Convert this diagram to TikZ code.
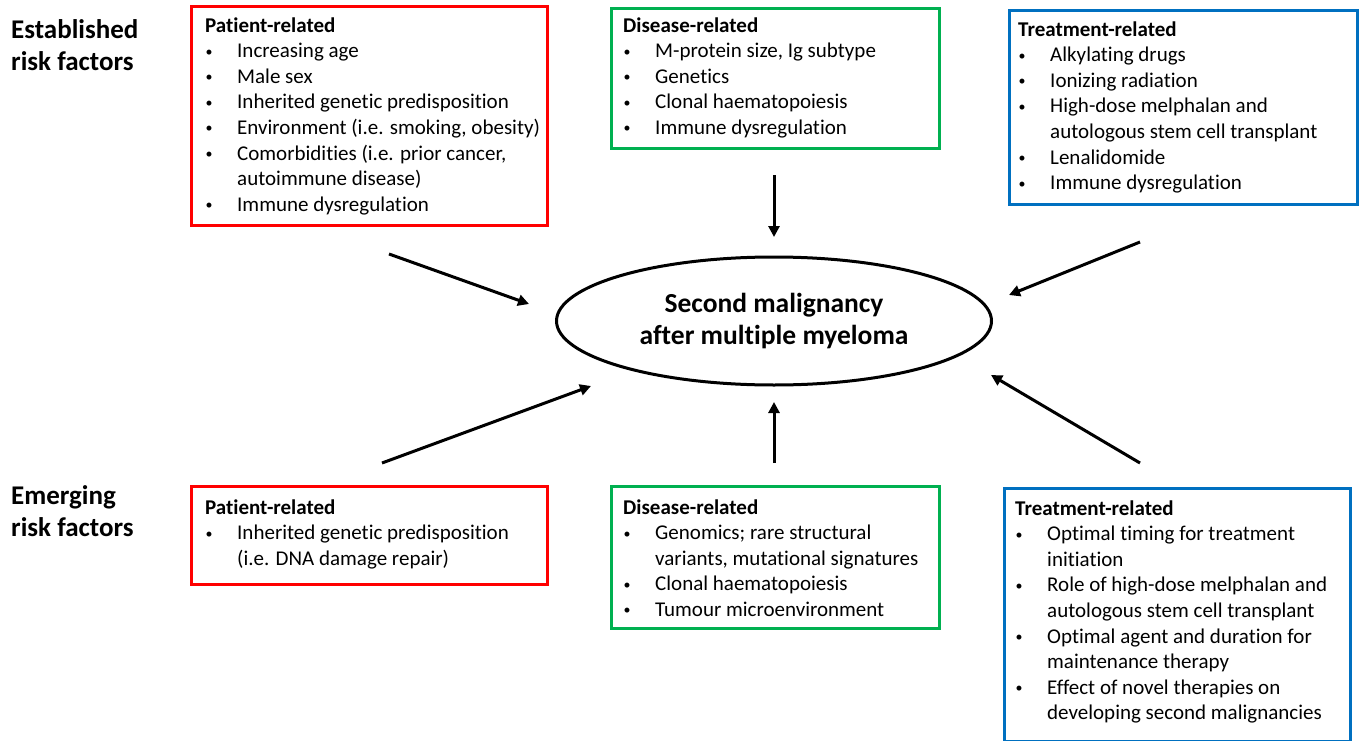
\documentclass[tikz,border=0pt]{standalone}
\usepackage{fontspec}
\setmainfont{Carlito}[Ligatures=NoCommon]
\usetikzlibrary{arrows.meta,shapes.geometric}
\definecolor{cred}{RGB}{255,0,0}
\definecolor{cgreen}{RGB}{0,176,80}
\definecolor{cblue}{RGB}{0,112,192}
\newcommand{\bl}[1]{\makebox[32pt][l]{\hspace*{0.5pt}\raisebox{1.6pt}{\fontsize{14}{14}\selectfont •}}#1}
\newcommand{\cl}[1]{\hspace*{32pt}#1}
\begin{document}
\begin{tikzpicture}[x=1pt,y=-1pt,
  box/.style={draw=#1, line width=3pt, inner sep=0pt, anchor=north west},
  txt/.style={anchor=north west, inner sep=0pt, align=left, font=\fontsize{21}{25.6}\selectfont},
  arr/.style={line width=3pt, -{Triangle[length=11pt,width=11pt]}},
  lbl/.style={anchor=north west, inner sep=0pt, align=left, font=\fontsize{27}{32}\selectfont\bfseries}]
\useasboundingbox[fill=white] (0,0) rectangle (1359,741);

% side labels
\node[lbl] (est) at (11,15.6) {\strut Established\\risk factors};
\node[lbl] (emg) at (11,481.6) {\strut Emerging\\risk factors};

% top boxes
\node[box=cred, minimum width=356pt, minimum height=219pt] (tp) at (190,5) {};
\node[txt] (tpt) at (205,14) {\strut\textbf{Patient-related}\\
\bl{Increasing age}\\
\bl{Male sex}\\
\bl{Inherited genetic predisposition}\\
\bl{Environment (i.e. smoking, obesity)}\\
\bl{Comorbidities (i.e. prior cancer,}\\
\cl{autoimmune disease)}\\
\bl{Immune dysregulation}};

\node[box=cgreen, minimum width=328pt, minimum height=140pt] (td) at (610,7) {};
\node[txt] (tdt) at (623,14) {\strut\textbf{Disease-related}\\
\bl{M-protein size, Ig subtype}\\
\bl{Genetics}\\
\bl{Clonal haematopoiesis}\\
\bl{Immune dysregulation}};

\node[box=cblue, minimum width=348pt, minimum height=194pt] (tt) at (1008,9) {};
\node[txt] (ttt) at (1018,18) {\strut\textbf{Treatment-related}\\
\bl{Alkylating drugs}\\
\bl{Ionizing radiation}\\
\bl{High-dose melphalan and}\\
\cl{autologous stem cell transplant}\\
\bl{Lenalidomide}\\
\bl{Immune dysregulation}};

% bottom boxes
\node[box=cred, minimum width=356pt, minimum height=98pt] (bp) at (190,485) {};
\node[txt] (bpt) at (205,496) {\strut\textbf{Patient-related}\\
\bl{Inherited genetic predisposition}\\
\cl{(i.e. DNA damage repair)}};

\node[box=cgreen, minimum width=328pt, minimum height=142pt] (bd) at (610,485) {};
\node[txt] (bdt) at (623,496) {\strut\textbf{Disease-related}\\
\bl{Genomics; rare structural}\\
\cl{variants, mutational signatures}\\
\bl{Clonal haematopoiesis}\\
\bl{Tumour microenvironment}};

\node[box=cblue, minimum width=346pt, minimum height=253pt] (bt) at (1003,487) {};
\node[txt] (btt) at (1015,497) {\strut\textbf{Treatment-related}\\
\bl{Optimal timing for treatment}\\
\cl{initiation}\\
\bl{Role of high-dose melphalan and}\\
\cl{autologous stem cell transplant}\\
\bl{Optimal agent and duration for}\\
\cl{maintenance therapy}\\
\bl{Effect of novel therapies on}\\
\cl{developing second malignancies}};

% centre ellipse
\node[draw, ellipse, line width=3pt, minimum width=435pt, minimum height=128pt, inner sep=0pt, align=center,
  font=\fontsize{27.5}{32}\selectfont\bfseries] (sm) at (774,321) {Second malignancy\\after multiple myeloma};

% arrows
\coordinate (a1s) at (389,254); \coordinate (a1e) at (529,304);
\coordinate (a2s) at (774,175); \coordinate (a2e) at (774,237);
\coordinate (a3s) at (1140,242); \coordinate (a3e) at (1009,295);
\coordinate (a4s) at (382,463); \coordinate (a4e) at (591,386);
\coordinate (a5s) at (774,463); \coordinate (a5e) at (774,402);
\coordinate (a6s) at (1140,463); \coordinate (a6e) at (991,375);
\draw[arr] (a1s) -- (a1e);
\draw[arr] (a2s) -- (a2e);
\draw[arr] (a3s) -- (a3e);
\draw[arr] (a4s) -- (a4e);
\draw[arr] (a5s) -- (a5e);
\draw[arr] (a6s) -- (a6e);
\end{tikzpicture}
\end{document}
